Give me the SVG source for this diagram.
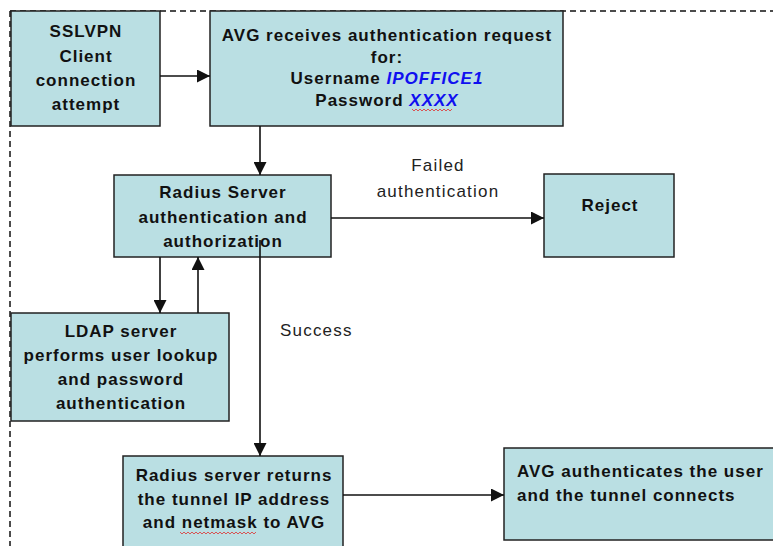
<svg xmlns="http://www.w3.org/2000/svg" width="773" height="546" viewBox="0 0 773 546">
<style>
.box{fill:#BADFE3;stroke:#222;stroke-width:1.5}
.t{font-family:"Liberation Sans",Arial,sans-serif;font-size:17px;font-weight:bold;fill:#111;letter-spacing:1px}
.c{text-anchor:middle}
.l{font-family:"Liberation Sans",Arial,sans-serif;font-size:17px;fill:#222;letter-spacing:1.2px}
.blue{fill:#1010F0;font-style:italic}
.conn{stroke:#111;stroke-width:1.6;fill:none}
.wavy{stroke:#E03030;stroke-width:0.8;fill:none}
</style>
<defs>
<marker id="ah" markerUnits="userSpaceOnUse" markerWidth="13" markerHeight="13" viewBox="0 0 13 13" refX="13" refY="6.5" orient="auto">
<path d="M0,0 L13,6.5 L0,13 Z" fill="#111"/>
</marker>
</defs>
<rect width="773" height="546" fill="#fff"/>
<path d="M10,11 H773 M10,11 V546" stroke="#111" stroke-width="1.5" stroke-dasharray="6,4" fill="none"/>

<g id="sslvpn">
<rect class="box" x="11" y="11" width="149" height="115"/>
<text class="t c" x="86" y="37">SSLVPN</text>
<text class="t c" x="86" y="62">Client</text>
<text class="t c" x="86" y="86">connection</text>
<text class="t c" x="86" y="110">attempt</text>
</g>

<g id="avg-receives">
<rect class="box" x="210" y="11" width="353" height="115"/>
<text class="t c" x="387" y="41">AVG receives authentication request</text>
<text class="t c" x="387" y="63">for:</text>
<text class="t c" x="387" y="84">Username <tspan class="blue">IPOFFICE1</tspan></text>
<text class="t c" x="387" y="106">Password <tspan class="blue">XXXX</tspan></text>
<path class="wavy" d="M412,109 l2,2 l2,-2 l2,2 l2,-2 l2,2 l2,-2 l2,2 l2,-2 l2,2 l2,-2 l2,2 l2,-2 l2,2 l2,-2 l2,2 l2,-2 l2,2 l2,-2 l2,2 l2,-2"/>
</g>

<g id="radius">
<rect class="box" x="114" y="175" width="217" height="82"/>
<text class="t c" x="223" y="198">Radius Server</text>
<text class="t c" x="223" y="223">authentication and</text>
<text class="t c" x="223" y="247">authorization</text>
</g>

<g id="reject">
<rect class="box" x="544" y="174" width="130" height="83"/>
<text class="t c" x="610" y="211">Reject</text>
</g>

<g id="ldap">
<rect class="box" x="11" y="313" width="218" height="108"/>
<text class="t c" x="121" y="337">LDAP server</text>
<text class="t c" x="121" y="361">performs user lookup</text>
<text class="t c" x="121" y="385">and password</text>
<text class="t c" x="121" y="409">authentication</text>
</g>

<g id="radius-returns">
<rect class="box" x="123" y="456" width="220" height="100"/>
<text class="t c" x="234" y="481">Radius server returns</text>
<text class="t c" x="234" y="505">the tunnel IP address</text>
<text class="t c" x="234" y="528">and netmask to AVG</text>
<path class="wavy" d="M180,532 l2,2 l2,-2 l2,2 l2,-2 l2,2 l2,-2 l2,2 l2,-2 l2,2 l2,-2 l2,2 l2,-2 l2,2 l2,-2 l2,2 l2,-2 l2,2 l2,-2 l2,2 l2,-2 l2,2 l2,-2 l2,2 l2,-2 l2,2 l2,-2 l2,2 l2,-2 l2,2 l2,-2 l2,2 l2,-2 l2,2 l2,-2 l2,2 l2,-2 l2,2 l2,-2"/>
</g>

<g id="avg-authenticates">
<rect class="box" x="504" y="448" width="280" height="92"/>
<text class="t" x="517" y="477">AVG authenticates the user</text>
<text class="t" x="517" y="501">and the tunnel connects</text>
</g>

<g id="connectors">
<line class="conn" x1="160" y1="76" x2="210" y2="76" marker-end="url(#ah)"/>
<line class="conn" x1="260" y1="126" x2="260" y2="175" marker-end="url(#ah)"/>
<line class="conn" x1="331" y1="218" x2="544" y2="218" marker-end="url(#ah)"/>
<line class="conn" x1="160" y1="257" x2="160" y2="313" marker-end="url(#ah)"/>
<line class="conn" x1="198" y1="313" x2="198" y2="257" marker-end="url(#ah)"/>
<line class="conn" x1="260" y1="240" x2="260" y2="456" marker-end="url(#ah)"/>
<line class="conn" x1="343" y1="495" x2="504" y2="495" marker-end="url(#ah)"/>
<text class="l c" x="438" y="171">Failed</text>
<text class="l c" x="438" y="197">authentication</text>
<text class="l" x="280" y="336">Success</text>
</g>
</svg>
